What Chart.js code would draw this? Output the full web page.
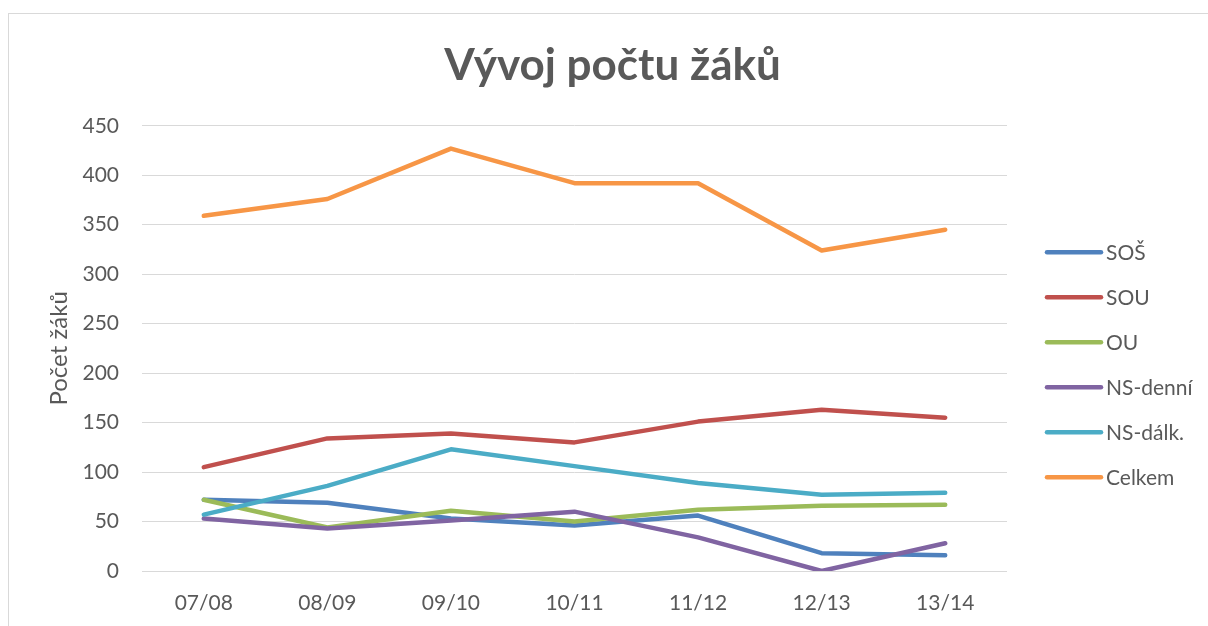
<!DOCTYPE html>
<html>
<head>
<meta charset="utf-8">
<script src="https://cdn.jsdelivr.net/npm/chart.js@4/dist/chart.umd.min.js"></script>
<style>
  html, body { margin: 0; padding: 0; background: #ffffff; overflow: hidden; width: 1208px; height: 626px; }
  #frame { position: absolute; left: 8px; top: 13px; width: 1300px; height: 700px;
           border-left: 1px solid #d9d9d9; border-top: 1px solid #d9d9d9; }
  #wrap { position: absolute; left: 9px; top: 14px; width: 1207px; height: 612px; }
</style>
</head>
<body>
<div id="frame"></div>
<div id="wrap"><canvas id="c" width="1207" height="612"></canvas></div>
<script>
const categories = ["07/08", "08/09", "09/10", "10/11", "11/12", "12/13", "13/14"];
const seriesNames = ["SOŠ", "SOU", "OU", "NS-denní", "NS-dálk.", "Celkem"];
const sosValues = [72, 69, 53, 46, 56, 18, 16];
const souValues = [105, 134, 139, 130, 151, 163, 155];
const ouValues = [72, 44, 61, 50, 62, 66, 67];
const nsDenniValues = [53, 43, 51, 60, 34, 0, 28];
const nsDalkValues = [57, 86, 123, 106, 89, 77, 79];
const celkemValues = [359, 376, 427, 392, 392, 324, 345];
const yTicks = [0, 50, 100, 150, 200, 250, 300, 350, 400, 450];
const titleText = "Vývoj počtu žáků";
const yTitleText = "Počet žáků";

const colors = ["#4F81BD", "#C0504D", "#9BBB59", "#8064A2", "#4BACC6", "#F79646"];
const allValues = [sosValues, souValues, ouValues, nsDenniValues, nsDalkValues, celkemValues];
const textColor = "#595959";
const fontFamily = "Lato, 'Open Sans', sans-serif";

const datasets = seriesNames.map((name, i) => ({
  label: name,
  data: allValues[i],
  borderColor: colors[i],
  backgroundColor: colors[i],
  borderWidth: 4.5,
  pointRadius: 0,
  pointHoverRadius: 0,
  tension: 0,
  borderCapStyle: 'round',
  borderJoinStyle: 'round',
  fill: false,
  order: seriesNames.length - i,
  yAxisID: 'y'
}));

const legendPlugin = {
  id: 'sideLegend',
  afterDraw(chart) {
    const ctx = chart.ctx;
    const top = chart.chartArea.top;
    ctx.save();
    ctx.font = "21px " + fontFamily;
    ctx.textBaseline = 'middle';
    ctx.textAlign = 'left';
    chart.data.datasets.forEach((ds, i) => {
      const y = top + 126.5 + 45 * i;
      ctx.beginPath();
      ctx.strokeStyle = ds.borderColor;
      ctx.lineWidth = 4.5;
      ctx.lineCap = 'round';
      ctx.moveTo(1038, y);
      ctx.lineTo(1092, y);
      ctx.stroke();
      ctx.fillStyle = textColor;
      ctx.fillText(ds.label, 1097, y + 1);
    });
    ctx.restore();
  }
};

new Chart(document.getElementById('c'), {
  type: 'line',
  data: { labels: categories, datasets: datasets },
  options: {
    responsive: false,
    animation: false,
    events: [],
    layout: { padding: 0 },
    plugins: {
      legend: { display: false },
      tooltip: { enabled: false },
      title: {
        display: true,
        text: titleText,
        color: textColor,
        font: { family: fontFamily, size: 44, weight: 'bold' },
        padding: { top: 25, bottom: 34 }
      }
    },
    scales: {
      x: {
        type: 'category',
        offset: true,
        grid: { display: false, drawTicks: false },
        border: { display: false },
        ticks: { color: textColor, font: { family: fontFamily, size: 21 }, padding: 20, maxRotation: 0 },
        afterFit: s => { s.height = 55; }
      },
      y: {
        type: 'linear',
        position: 'left',
        min: 0,
        max: 450,
        afterBuildTicks: s => { s.ticks = yTicks.map(v => ({ value: v })); },
        grid: { color: '#d9d9d9', lineWidth: 1, drawTicks: false },
        border: { display: false },
        ticks: { color: textColor, font: { family: fontFamily, size: 21 }, padding: 23 },
        title: {
          display: true,
          text: yTitleText,
          color: textColor,
          font: { family: fontFamily, size: 24 },
          padding: { top: 36, bottom: 0 }
        },
        afterFit: s => { s.width = 133; }
      },
      yR: {
        type: 'linear',
        position: 'right',
        display: true,
        grid: { display: false, drawTicks: false },
        border: { display: false },
        ticks: { display: false },
        afterFit: s => { s.width = 209; }
      }
    }
  },
  plugins: [legendPlugin]
});
</script>
</body>
</html>
